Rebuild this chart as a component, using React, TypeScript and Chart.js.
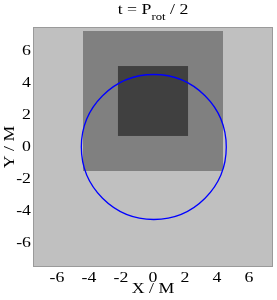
import React, { useEffect, useRef } from 'react';
import { Chart, registerables } from 'chart.js';
Chart.register(...registerables);

const xTicks = [-6, -4, -2, 0, 2, 4, 6];
const yTicks = [-6, -4, -2, 0, 2, 4, 6];
const axisMin = -7.5;
const axisMax = 7.5;
// rectangles: [xMin, xMax, yMin, yMax]
const outerSquare = [-4.375, 4.375, -1.5, 7.25];
const innerSquare = [-2.19, 2.19, 0.69, 5.06];
const circleCenter = [0.05, 0.0];
const circleRadius = 4.53;
const titleMain = 't = P';
const titleSub = 'rot';
const titleEnd = ' / 2';
const xLabel = 'X / M';
const yLabel = 'Y / M';

const FONT = '"Liberation Serif", "Times New Roman", serif';
const TEXT_STRETCH = 1.27;

const shapesPlugin = {
  id: 'shapes',
  beforeDraw(chart: any) {
    const ctx = chart.ctx;
    if (!ctx.__origFill) {
      const orig = ctx.fillText.bind(ctx);
      ctx.__origFill = orig;
      ctx.fillText = function (text: string, x: number, y: number, maxWidth?: number) {
        ctx.save();
        ctx.translate(x, y);
        ctx.scale(TEXT_STRETCH, 1);
        if (maxWidth !== undefined) orig(text, 0, 0, maxWidth / TEXT_STRETCH);
        else orig(text, 0, 0);
        ctx.restore();
      };
    }
  },
  beforeDatasetsDraw(chart: any) {
    const { ctx, chartArea, scales } = chart;
    const xs = scales.x;
    const ys = scales.y;
    ctx.save();
    ctx.fillStyle = '#c0c0c0';
    ctx.fillRect(chartArea.left, chartArea.top, chartArea.right - chartArea.left, chartArea.bottom - chartArea.top);
    ctx.strokeStyle = '#9a9a9a';
    ctx.lineWidth = 1;
    ctx.strokeRect(chartArea.left + 0.5, chartArea.top + 0.5, chartArea.right - chartArea.left - 1, chartArea.bottom - chartArea.top - 1);
    const rect = (r: number[], color: string) => {
      const x0 = xs.getPixelForValue(r[0]);
      const x1 = xs.getPixelForValue(r[1]);
      const y0 = ys.getPixelForValue(r[3]);
      const y1 = ys.getPixelForValue(r[2]);
      ctx.fillStyle = color;
      ctx.fillRect(x0, y0, x1 - x0, y1 - y0);
    };
    rect(outerSquare, '#808080');
    rect(innerSquare, '#404040');
    const cx = xs.getPixelForValue(circleCenter[0]);
    const cy = ys.getPixelForValue(circleCenter[1]);
    const rx = Math.abs(xs.getPixelForValue(circleCenter[0] + circleRadius) - cx);
    const ry = Math.abs(ys.getPixelForValue(circleCenter[1] + circleRadius) - cy);
    ctx.beginPath();
    ctx.ellipse(cx, cy, rx, ry, 0, 0, Math.PI * 2);
    ctx.strokeStyle = '#0000ff';
    ctx.lineWidth = 1.3;
    ctx.stroke();
    ctx.restore();
  },
  afterDraw(chart: any) {
    const { ctx, chartArea } = chart;
    ctx.save();
    const mainFont = `14px ${FONT}`;
    const subFont = `10px ${FONT}`;
    ctx.font = mainFont;
    const w1 = ctx.measureText(titleMain).width * TEXT_STRETCH;
    const w3 = ctx.measureText(titleEnd).width * TEXT_STRETCH;
    ctx.font = subFont;
    const w2 = ctx.measureText(titleSub).width * TEXT_STRETCH;
    const total = w1 + w2 + w3;
    let x = (chartArea.left + chartArea.right) / 2 - total / 2;
    const base = 14;
    ctx.fillStyle = '#000';
    ctx.textBaseline = 'alphabetic';
    ctx.textAlign = 'left';
    ctx.font = mainFont;
    ctx.fillText(titleMain, x, base);
    x += w1;
    ctx.font = subFont;
    ctx.fillText(titleSub, x, base + 6);
    x += w2;
    ctx.font = mainFont;
    ctx.fillText(titleEnd, x, base);
    ctx.restore();
  },
};

export default function App() {
  const ref = useRef<HTMLCanvasElement>(null);
  useEffect(() => {
    document.body.style.margin = '0';
    const canvas = ref.current!;
    const chart = new Chart(canvas, {
      type: 'scatter',
      data: { datasets: [{ data: [] }] },
      options: {
        responsive: false,
        animation: false,
        devicePixelRatio: 1,
        layout: { padding: { top: 27, right: 4, left: 0, bottom: 0 } },
        plugins: { legend: { display: false }, tooltip: { enabled: false }, title: { display: false } },
        scales: {
          x: {
            type: 'linear',
            min: axisMin,
            max: axisMax,
            afterBuildTicks: (s: any) => { s.ticks = xTicks.map((v) => ({ value: v })); },
            afterFit: (s: any) => { s.height = 33; },
            grid: { display: false, drawTicks: false },
            border: { display: false },
            ticks: { color: '#000', padding: 3, font: { family: FONT, size: 14 }, maxRotation: 0, autoSkip: false },
            title: { display: true, text: xLabel, color: '#000', font: { family: FONT, size: 14 }, padding: { top: 0, bottom: 2 } },
          },
          y: {
            type: 'linear',
            min: axisMin,
            max: axisMax,
            afterBuildTicks: (s: any) => { s.ticks = yTicks.map((v) => ({ value: v })); },
            afterFit: (s: any) => { s.width = 33; },
            grid: { display: false, drawTicks: false },
            border: { display: false },
            ticks: { color: '#000', padding: 2, font: { family: FONT, size: 14 }, autoSkip: false },
            title: { display: true, text: yLabel, color: '#000', font: { family: FONT, size: 14 }, padding: { top: 2, bottom: 0 } },
          },
        },
      },
      plugins: [shapesPlugin],
    });
    return () => chart.destroy();
  }, []);
  return (
    <div style={{ width: 277, height: 300 }}>
      <canvas ref={ref} width={277} height={300} style={{ display: 'block' }} />
    </div>
  );
}
